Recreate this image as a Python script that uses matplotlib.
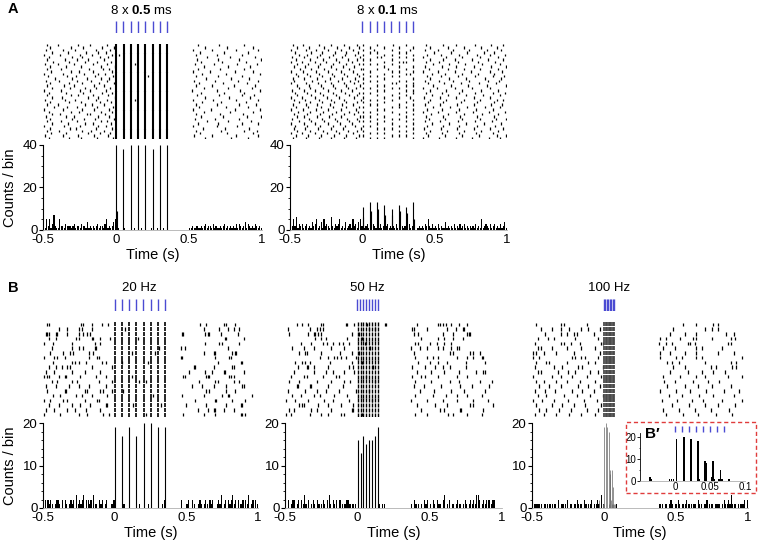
import matplotlib
matplotlib.use("Agg")
import matplotlib.pyplot as plt
from matplotlib.patches import Rectangle
from matplotlib.ticker import MultipleLocator

plt.rcParams["font.family"] = ["Liberation Sans", "DejaVu Sans"]
plt.rcParams["mathtext.fontset"] = "custom"
plt.rcParams["mathtext.rm"] = "Liberation Sans"
plt.rcParams["mathtext.bf"] = "Liberation Sans:bold"

W, H = 759, 551

# ---------------- data ----------------
# light pulse onsets (s)
PULSES_A = [0.0, 0.05, 0.10, 0.15, 0.20, 0.25, 0.30, 0.35]
PULSES_20 = [0.0, 0.05, 0.10, 0.15, 0.20, 0.25, 0.30, 0.35]
PULSES_50 = [0.0, 0.02, 0.04, 0.06, 0.08, 0.10, 0.12, 0.14]
PULSES_100 = [0.0, 0.01, 0.02, 0.03, 0.04, 0.05, 0.06, 0.07]

# raster spike times per trial (ms), one line per trial
RASTER_A1 = """
-470 -395 -260 -180 -60 560 705 880
-455 -310 -225 -95 -15 610 760 935
-480 -365 -280 -140 -40 530 655 820 975
-440 -330 -205 -120 -70 575 740 905
-490 -385 -250 -165 -25 20 545 690 860
-460 -300 -230 -110 -55 620 780 950
-475 -350 -270 -190 -80 555 700 845 990
-430 -320 -215 -130 -35 585 725 890
-485 -400 -290 -155 -65 130 540 670 830 965
-450 -345 -240 -105 -10 600 770 920
-470 -375 -185 -90 -45 565 710 875
-445 -310 -255 -160 -30 525 645 815 940
-495 -360 -220 -125 -75 590 750 985
-465 -335 -275 -145 -20 220 550 700 865
-420 -300 -200 -100 -50 615 785 910
-480 -390 -265 -170 -60 535 680 835 970
-455 -325 -235 -115 -15 570 730 895
-470 -355 -285 -150 -85 545 660 810 955
-440 -315 -210 -135 -40 600 765 930
-490 -380 -250 -175 -70 520 690 850 985
-460 -340 -225 -95 -25 580 740 880
-475 -305 -260 -160 -55 555 705 860 945
-435 -370 -195 -120 -10 610 775 915
-485 -350 -280 -140 -65 130 530 665 825 975
-450 -320 -240 -110 -35 590 720 890
-470 -395 -215 -165 -80 545 695 840 960
-425 -335 -270 -130 -20 570 755 905
-495 -365 -230 -150 -50 525 650 815 985
-460 -310 -255 -100 -30 605 780 935
-440 -385 -200 -175 -75 550 715 870
-480 -345 -285 -125 -45 585 735 900 990
-455 -300 -220 -145 -15 540 675 845
-470 -375 -265 -105 -60 620 770 925
-435 -330 -210 -160 -35 560 700 865 970
-490 -355 -245 -120 -70 530 690 830
-450 -315 -275 -135 -25 595 745 910
-475 -390 -230 -170 -85 550 720 880 965
-445 -340 -195 -110 -40 575 760 935
-485 -360 -260 -150 -55 535 660 820 975
-460 -320 -240 -130 -20 610 790 905
"""

RASTER_A2 = """
-480 -410 -300 -220 -130 -40 3 103 210 303 440 560 650 780 890 970
-455 -370 -262 -175 -92 -20 53 153 253 353 470 590 700 820 930
-490 -388 -322 -240 -150 -62 3 80 203 330 430 520 630 740 860 960
-465 -352 -280 -188 -110 -30 53 103 253 303 492 610 722 840 912
-440 -380 -295 -205 -120 -50 3 153 203 353 450 545 670 790 880 985
-485 -402 -310 -232 -142 -15 103 130 253 303 420 580 690 810 940
-460 -360 -270 -185 -100 -35 3 53 203 353 470 560 640 760 870 975
-495 -420 -330 -250 -160 -70 153 253 280 303 440 530 660 800 920
-450 -375 -290 -200 -115 -25 3 53 103 203 490 600 710 830 950
-475 -395 -305 -215 -135 -55 153 253 353 430 550 650 770 890 990
-430 -355 -265 -180 -95 -10 3 103 180 303 460 590 700 815 935
-490 -410 -320 -235 -145 -65 53 203 253 353 420 520 640 750 880 965
-460 -385 -300 -210 -125 -40 3 153 303 330 480 570 690 800 910
-445 -365 -280 -195 -105 -20 53 103 203 253 445 545 660 780 900 980
-480 -400 -315 -225 -140 -50 3 153 353 470 600 720 850 960
-470 -350 -260 -170 -85 -30 53 103 253 303 430 530 630 740 870 945
-495 -390 -305 -220 -130 -60 3 203 230 353 455 565 685 805 925
-455 -370 -285 -200 -115 -15 103 153 303 350 490 610 730 860 990
-440 -360 -275 -190 -100 -45 3 53 203 253 420 515 640 760 880
-485 -405 -325 -240 -150 -70 103 153 303 353 465 580 690 820 940
-465 -380 -290 -205 -120 -25 3 53 253 353 440 550 670 780 900 985
-450 -355 -270 -185 -95 -40 103 203 303 480 595 715 835 955
-490 -415 -330 -245 -160 -55 3 153 253 330 425 535 650 770 880
-475 -395 -300 -215 -130 -10 53 103 203 353 470 580 700 810 930 975
-435 -365 -280 -195 -110 -35 3 153 303 455 560 685 795 910
-480 -390 -310 -225 -140 -65 53 103 253 353 430 540 655 775 890 965
-460 -375 -285 -200 -115 -20 3 203 253 303 490 605 725 845 950
-495 -410 -320 -235 -150 -45 103 153 353 445 550 665 785 905
-445 -360 -270 -180 -95 -30 3 53 203 303 420 525 645 765 875 985
-470 -385 -295 -210 -125 -60 103 253 353 475 590 705 825 940
-455 -400 -315 -230 -145 -15 3 53 153 303 440 555 675 790 910
-485 -370 -280 -190 -105 -40 103 203 253 353 460 570 690 810 925 990
-440 -355 -265 -175 -90 -25 3 53 153 303 430 535 660 780 895
-490 -405 -325 -240 -155 -70 103 203 353 485 600 720 840 960
-465 -380 -290 -205 -120 -50 3 53 253 303 450 560 670 795 915
-475 -395 -305 -220 -135 -10 103 153 203 353 425 545 655 770 885 975
-450 -365 -275 -185 -100 -35 3 253 303 470 585 700 820 940
-495 -415 -330 -245 -160 -65 53 103 153 353 440 550 665 785 900
-460 -375 -285 -195 -110 -20 3 203 253 303 455 570 690 805 930 990
-480 -390 -300 -215 -125 -45 53 103 153 353 420 530 645 760 875 950
"""

RASTER_20 = """
-470 -455 -235 -220 -160 -90 -45 595 640 760 775 840
-390 -330 -250 -230 -160 70 620 730 790 835 870
-480 -470 -460 -410 -400 -330 -250 -220 -190 -175 470 480 630 650 660 740 860
-460 -410 -270 -250 -160 -150 -100 -30 160 770 780 900
-490 -430 -300 -140 -100 630 730 750 870
-440 -300 -250 -220 -140 -130 310 460 490 790
-450 -360 -310 -290 -180 -150 120 280 620 690 700 820 840 850
-490 -420 -400 -350 -180 -120 -110 460 470 700 800 810
-430 -300 -280 -250 -200 -90 -60 50 230 720 880 890
-460 -410 -370 -330 -310 -160 -20 550 560 690 820 830
-480 -420 -300 -210 -100 520 630 680 760 770 900
-490 -470 -460 -390 -350 -340 -240 -130 -60 120 480 490 640 650 660 800 810 830
-440 -400 -300 -260 -110 -20 170 220 590 700 720 830 870
-480 -410 -320 -250 -180 -60 540 610 690 780 890 900
-470 -350 -340 -210 -190 -100 -80 -20 60 640 660 780 840
-430 -380 -270 -230 -160 -50 270 470 620 750 790 800 960
-490 -450 -360 -330 -210 -120 -110 560 700 710 820 910
-460 -390 -300 -240 -170 -60 -50 130 320 500 640 780 880 890
-480 -420 -330 -280 -200 -100 580 650 690 700 760 830
-490 -380 -250 -190 -80 -40 220 480 620 700 880 890 910
"""

RASTER_50 = """
-420 -380 -340 -250 -240 -80 -70 -20 70 190 200 410 560 570 590 610 650 700 760
-480 -330 -280 -260 -240 80 120 380 390 480 620 680 730 740
-470 -340 -300 -290 -270 -250 -40 10 390 420 590 660 760 770 780
-290 -250 -220 -70 30 440 560 600 660 730
-390 -320 -240 -210 -170 -130 -100 -60 50 400 420 500 550 600 650
-450 -370 -300 -180 -90 90 370 430 480 560 590 650 690 700
-400 -360 -350 -250 -120 -40 10 390 640 660 780 800 850
-260 -200 -160 -140 -110 -80 -10 400 480 520 560 690 760 800 860 870
-430 -380 -360 -330 -190 -40 30 420 500 560 620 750 880
-410 -350 -340 -300 -200 -60 -30 110 380 470 540 590 640 750
-440 -300 -220 -170 -90 -20 410 510 600 700 820 870 880
-460 -370 -350 -240 -150 -130 60 380 440 470 560 690 760
-470 -400 -280 -180 -90 -50 120 400 510 640 700 850 930
-420 -410 -330 -320 -200 -100 390 460 580 710 790 910
-480 -360 -280 -220 -130 -10 80 430 530 650 740 880
-450 -390 -300 -260 -160 -70 400 520 610 690 760 860
-490 -430 -340 -230 -170 -60 100 370 480 590 690 800 900
-400 -380 -370 -270 -200 -110 -30 410 540 620 780 800 940
-470 -440 -320 -280 -180 -40 -30 440 570 600 710 720 870
-490 -460 -330 -250 -200 -110 -90 30 400 480 630 660 760 860
"""

RASTER_100 = """
-470 -300 -280 -120 550 640 760 790
-440 -360 -300 -240 -160 -110 -30 480 700 750 790
-410 -300 -260 -210 -190 -70 460 560 640 850 900
-460 -390 -350 -200 -40 390 430 530 620 640 750 880 910
-480 -300 -280 -230 -170 -20 -10 380 430 470 580 600 630 860 880
-460 -440 -360 -260 -160 -60 410 490 640 680 820
-490 -470 -420 -330 -210 -30 390 460 560 640 790 900
-490 -450 -220 -200 -160 -130 -40 390 500 540 640 680 960
-470 -400 -380 -260 -110 -60 440 470 520 700 880 920
-480 -350 -290 -180 -150 -10 480 560 740 780 890 920
-460 -440 -320 -250 -200 -100 -40 460 580 680 760 840
-490 -360 -300 -220 -120 -20 410 530 640 700 860 960
-470 -420 -330 -260 -170 -60 420 490 620 720 800
-450 -380 -300 -180 -110 -30 440 560 650 750 880
-480 -410 -340 -220 -150 -70 390 500 600 710 830 940
-460 -400 -280 -190 -100 -10 450 540 660 760 900
-490 -430 -350 -250 -140 -50 400 510 610 690 820 960
-470 -360 -290 -210 -130 -20 470 590 700 790 910
-450 -400 -310 -230 -120 -40 410 520 630 740 870
-480 -420 -330 -240 -160 -60 430 550 650 780 890
"""

# PSTH background counts, 10 ms bins from -0.5 s to 1 s (one digit per bin)
PSTH_A1 = """5152513721 1522132221 2312213221 4121212312 2135121245
0100010000 0010000100 0000100010 0010000000 0000000000
1121121121 2312213121 1212312121 2131321241 3212132121"""
PSTH_A2 = """3252613231 2312142351 2415232162 1323512141 2315231452
2123121321 2131212312 1213121212 2131210012 1213252131
2131211412 1213121312 3121212131 2151232131 2312131241"""
PSTH_20 = """1202121012 2102021012 1203121230 2212031102 1201200112
0000001000 0000000100 0001000000 0001200000 0000002000
1200210012 1012102120 0121301202 1231202112 0213012021"""
PSTH_50 = """1020122012 0213102012 1021012102 3102120221 0122111110
0000000000 0000010110 0000000000 0000000102 1010102120
1021021102 3012011012 1101210121 2133201212 2212200000"""
PSTH_100 = """3111111011 1010111020 1101201101 1211102101 1201121031
0000000010 0000000000 0000000000 0000000011 1011012101
1210111211 1011021101 1201110111 1012112131 1101111202"""

# evoked peaks (time s, count)
PEAK_A1_T = [0.000, 0.004, 0.050, 0.100, 0.150, 0.200, 0.250, 0.300, 0.350]
PEAK_A1_H = [40, 9, 38, 40, 40, 40, 38, 40, 40]
PEAK_A2_T = [0.003, 0.053, 0.103, 0.153, 0.203, 0.253, 0.303, 0.353,
             0.008, 0.058, 0.108, 0.158, 0.208, 0.258, 0.308, 0.358]
PEAK_A2_H = [11, 13, 13, 12, 10, 12, 11, 13, 6, 9, 10, 7, 7, 9, 8, 5]
PEAK_20_H = [19, 17, 19, 17, 20, 20, 19, 19]
PEAK_50_H = [16, 13, 17, 15, 16, 16, 17, 19]

# 100 Hz fine bins (B')
FINE_T = [-0.036, -0.034, -0.008, -0.005, -0.002, 0.002, 0.013, 0.023, 0.033,
          0.035, 0.043, 0.045, 0.052, 0.054, 0.056, 0.063, 0.065, 0.067, 0.077]
FINE_H = [2, 1, 1, 1, 1, 19, 20, 19, 18, 1, 9, 8, 2, 9, 1, 1, 5, 1, 1]

TIME_TICKS = [-0.5, 0, 0.5, 1]
TIME_LABELS = ["-0.5", "0", "0.5", "1"]
BLUE = "#4b4bd2"


def parse_rows(txt):
    return [[float(v) / 1000 for v in ln.split()] for ln in txt.strip().splitlines()]


def parse_counts(txt):
    return [int(c) for c in txt if c.isdigit()]


def ax_px(fig, x0, x1, top, bot):
    return fig.add_axes([x0 / W, 1 - bot / H, (x1 - x0) / W, (bot - top) / H])


fig = plt.figure(figsize=(W / 100, H / 100), dpi=100)


def panel(x0, x1, ytop, title, pulses, raster, evoked, counts, pk_t, pk_h,
          ymax, ystep, yminor, ylabel, linelen, evlen, evlw, evcol="black",
          pk_col="black", pk_lw=0.8):
    # title + stimulus ticks
    fig.text((x0 + (x1 - x0) * (0.5 + pulses[-1] / 2) / 1.5) / W,
             1 - ytop / H, title, ha="center", va="center", fontsize=9.5)
    axs = ax_px(fig, x0, x1, ytop + 11, ytop + 23)
    axs.set_xlim(-0.5, 1)
    axs.set_ylim(0, 1)
    axs.vlines(pulses, 0, 1, color=BLUE, lw=1)
    axs.axis("off")

    # raster
    trials = parse_rows(raster)
    rows_idx = list(range(len(trials)))
    axr = ax_px(fig, x0, x1, ytop + 34, ytop + 129)
    axr.eventplot(trials, lineoffsets=rows_idx, linelengths=linelen,
                  linewidths=0.9, colors="black")
    if evoked:
        ev = [[p + 0.002 for p in pulses] for _ in trials]
        axr.eventplot(ev, lineoffsets=rows_idx, linelengths=evlen,
                      linewidths=evlw, colors=evcol)
    axr.set_xlim(-0.5, 1)
    axr.set_ylim(len(trials) - 0.5, -0.5)
    axr.axis("off")

    # PSTH
    axh = ax_px(fig, x0, x1, ytop + 135, ytop + 220)
    c = parse_counts(counts)
    centers = [-0.5 + 0.01 * i + 0.005 for i in range(len(c))]
    axh.bar(centers, c, width=0.008, color="black", lw=0)
    axh.vlines(pk_t, 0, pk_h, colors=pk_col, lw=pk_lw)
    axh.set_xlim(-0.5, 1)
    axh.set_ylim(0, ymax)
    axh.set_xticks(TIME_TICKS, TIME_LABELS)
    axh.yaxis.set_major_locator(MultipleLocator(ystep))
    axh.yaxis.set_minor_locator(MultipleLocator(yminor))
    axh.tick_params(axis="x", length=0, labelsize=9.5, pad=3)
    axh.tick_params(axis="y", which="major", length=3, width=0.8, labelsize=9.5, pad=1)
    axh.tick_params(axis="y", which="minor", length=1.5, width=0.6)
    for s in ("top", "right"):
        axh.spines[s].set_visible(False)
    axh.spines["left"].set_linewidth(0.8)
    axh.spines["bottom"].set_color("#b0b0b0")
    axh.spines["bottom"].set_linewidth(0.6)
    axh.set_xlabel("Time (s)", fontsize=10.5, labelpad=1)
    if ylabel:
        axh.set_ylabel("Counts / bin", fontsize=10.5, labelpad=4)
    return axh


panel(43, 262, 10, r"8 x $\mathbf{0.5}$ ms", PULSES_A, RASTER_A1, True, PSTH_A1,
      PEAK_A1_T, PEAK_A1_H, 40, 20, 5, True, 1.0, 1.05, 1.5)
panel(290, 507, 10, r"8 x $\mathbf{0.1}$ ms", PULSES_A, RASTER_A2, False, PSTH_A2,
      PEAK_A2_T, PEAK_A2_H, 40, 20, 5, False, 1.0, 1.0, 1.0)
panel(43, 258, 288, "20 Hz", PULSES_20, RASTER_20, True, PSTH_20,
      [p + 0.002 for p in PULSES_20], PEAK_20_H, 20, 10, 2, True, 0.7, 0.8, 1.2)
panel(285, 502, 288, "50 Hz", PULSES_50, RASTER_50, True, PSTH_50,
      [p + 0.002 for p in PULSES_50], PEAK_50_H, 20, 10, 2, False, 0.7, 0.8, 1.0)
panel(532, 748, 288, "100 Hz", PULSES_100, RASTER_100, True, PSTH_100,
      FINE_T, FINE_H, 20, 10, 2, False, 0.7, 0.85, 1.3, evcol="#4a4a4a",
      pk_col="#666666", pk_lw=0.5)

# inset B'
fig.patches.append(Rectangle((626 / W, 1 - 493 / H), 130 / W, 71 / H,
                             transform=fig.transFigure, fill=False,
                             ec="#e03c3c", ls=(0, (3, 2)), lw=1))
axi = ax_px(fig, 640, 745, 432.6, 481)
axi.bar(FINE_T, FINE_H, width=0.0025, color="black", lw=0)
axi.vlines(PULSES_100, 22.5, 24.8, color=BLUE, lw=1, clip_on=False)
axi.set_xlim(-0.05, 0.1)
axi.set_ylim(0, 22)
axi.set_xticks([0, 0.05, 0.1], ["0", "0.05", "0.1"])
axi.set_yticks([0, 10, 20])
axi.yaxis.set_minor_locator(MultipleLocator(5))
axi.tick_params(axis="x", length=0, labelsize=7, pad=1)
axi.tick_params(axis="y", length=2, width=0.6, labelsize=7, pad=1)
axi.tick_params(axis="y", which="minor", length=1, width=0.5)
for s in ("top", "right"):
    axi.spines[s].set_visible(False)
axi.spines["left"].set_linewidth(0.6)
axi.spines["bottom"].set_color("#b0b0b0")
axi.spines["bottom"].set_linewidth(0.6)
fig.text(645 / W, 1 - 434 / H, "B\u2032", fontsize=11, fontweight="bold",
         ha="left", va="center")

fig.text(8 / W, 1 - 9 / H, "A", fontsize=10.5, fontweight="bold", va="center")
fig.text(8 / W, 1 - 288 / H, "B", fontsize=10.5, fontweight="bold", va="center")

fig.savefig("out.png", dpi=100)
